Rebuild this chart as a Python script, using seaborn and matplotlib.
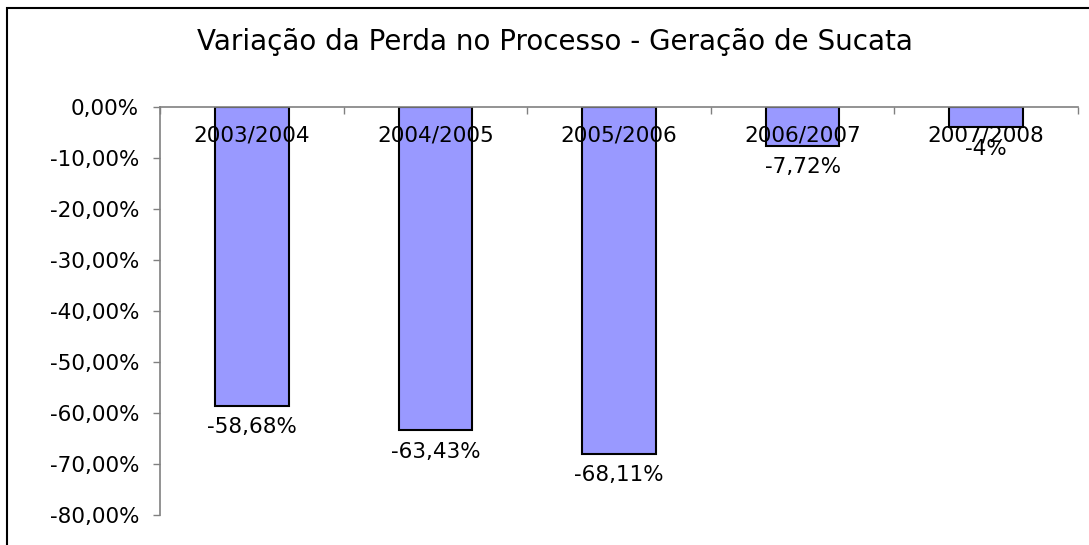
import pandas as pd
import numpy as np
import matplotlib.pyplot as plt
import seaborn as sns
from matplotlib.ticker import FuncFormatter
from matplotlib.patches import Rectangle

sns.set_theme(style='white')
plt.rcParams['font.family'] = ['DejaVu Sans']

# variação anual da perda (geração de sucata)
df = pd.DataFrame({
    'periodo': ['2003/2004', '2004/2005', '2005/2006', '2006/2007', '2007/2008'],
    'variacao': [-0.5868, -0.6343, -0.6811, -0.0772, -0.04],
    'rotulo': ['-58,68%', '-63,43%', '-68,11%', '-7,72%', '-4%'],
})

def fmt_pct(v, p):
    if abs(v) < 1e-9:
        v = 0.0
    return f"{v * 100:.2f}%".replace('.', ',')

fig = plt.figure(figsize=(10.89, 5.45), dpi=100)
ax = fig.add_axes([160 / 1089, 1 - 515 / 545, (1078 - 160) / 1089, (515 - 107) / 545])

sns.barplot(data=df, x='periodo', y='variacao', color='#9999FF', saturation=1,
            width=0.4, edgecolor='black', linewidth=1.5, ax=ax)
ax.bar_label(ax.containers[0], labels=df['rotulo'], padding=8, fontsize=15.5, color='black')

ax.set_ylim(-0.8, 0)
ax.set_xlim(-0.5, 4.5)
ax.set_yticks(np.round(np.arange(-0.8, 0.01, 0.1), 2))
ax.yaxis.set_major_formatter(FuncFormatter(fmt_pct))
ax.tick_params(axis='y', left=True, length=5, width=1, color='#808080',
               labelsize=15.5, pad=10, labelcolor='black')

# eixo das categorias no topo (linha do zero)
ax.xaxis.tick_top()
ax.set_xticks(np.arange(-0.5, 5, 1))
ax.set_xticklabels([])
ax.tick_params(axis='x', top=True, direction='in', length=5, width=1, color='#808080')
for i, p in enumerate(df['periodo']):
    ax.text(i, -0.055, p, ha='center', va='center', fontsize=15.5, color='black')

ax.set_xlabel('')
ax.set_ylabel('')
for s in ['right', 'bottom']:
    ax.spines[s].set_visible(False)
ax.spines['left'].set_color('#808080')
ax.spines['top'].set_color('#808080')
ax.spines['left'].set_linewidth(1.2)
ax.spines['top'].set_linewidth(1.2)

fig.text(0.51, 1 - 42 / 545, 'Variação da Perda no Processo - Geração de Sucata',
         ha='center', va='center', fontsize=20, color='black')

# moldura do gráfico
fig.patches.append(Rectangle((6.5 / 1089, -0.2), 1.2, 1.2 - 8 / 545, transform=fig.transFigure,
                             fill=False, edgecolor='black', linewidth=1.5))

fig.savefig('out.png', dpi=100)
